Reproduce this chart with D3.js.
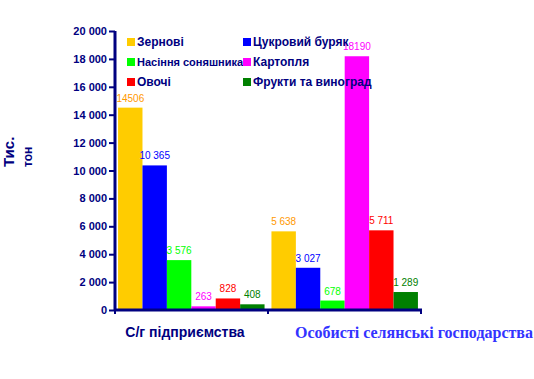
<!DOCTYPE html>
<html><head><meta charset="utf-8">
<script src="https://cdn.jsdelivr.net/npm/d3@7"></script>
<style>body{margin:0;background:#fff}svg{display:block}</style>
</head><body>
<script>
const categories = ["С/г підприємства", "Особисті селянські господарства"];
const seriesNames = ["Зернові", "Цукровий буряк", "Насіння соняшника", "Картопля", "Овочі", "Фрукти та виноград"];
const values = [
  [14506, 10365, 3576, 263, 828, 408],
  [5638, 3027, 678, 18190, 5711, 1289]
];
const valueLabels = [
  ["14506", "10 365", "3 576", "263", "828", "408"],
  ["5 638", "3 027", "678", "18190", "5 711", "1 289"]
];
const yTicks = [0, 2000, 4000, 6000, 8000, 10000, 12000, 14000, 16000, 18000, 20000];
const yTickLabels = ["0", "2 000", "4 000", "6 000", "8 000", "10 000", "12 000", "14 000", "16 000", "18 000", "20 000"];
const colors = ["#FFCC00", "#0000FF", "#00FF00", "#FF00FF", "#FF0000", "#008000"];
const labelColors = ["#FF9900", "#0000FF", "#00FF00", "#FF00FF", "#FF0000", "#008000"];

const W = 534, H = 379, navy = "#000080";
const svg = d3.select("body").append("svg").attr("width", W).attr("height", H);

const y = d3.scaleLinear().domain([0, 20000]).range([310, 31]);
const x0 = d3.scaleBand().domain(categories).range([115, 421]).paddingInner(0.045).paddingOuter(0.02);
const x1 = d3.scaleBand().domain(seriesNames).range([0, x0.bandwidth()]);

// bars
categories.forEach((c, ci) => {
  const g = svg.append("g").attr("transform", `translate(${x0(c)},0)`);
  g.selectAll("rect").data(values[ci]).join("rect")
    .attr("x", (d, i) => x1(seriesNames[i]))
    .attr("y", d => y(d))
    .attr("width", x1.bandwidth())
    .attr("height", d => y(0) - y(d))
    .attr("fill", (d, i) => colors[i]);
  g.selectAll("text").data(values[ci]).join("text")
    .attr("x", (d, i) => x1(seriesNames[i]) + x1.bandwidth() / 2)
    .attr("y", d => y(d) - 6)
    .attr("text-anchor", "middle")
    .attr("font-family", "Liberation Sans, Arial, sans-serif")
    .attr("font-size", 10)
    .attr("fill", (d, i) => labelColors[i])
    .text((d, i) => valueLabels[ci][i]);
});

// y axis
const yAxis = d3.axisLeft(y).tickValues(yTicks).tickFormat((d, i) => yTickLabels[i]).tickSize(6).tickPadding(2);
const ya = svg.append("g").attr("transform", "translate(115,0)").call(yAxis);
ya.select(".domain").attr("stroke", navy).attr("stroke-width", 3).attr("d", "M0,31V311");
ya.selectAll(".tick line").attr("stroke", navy).attr("stroke-width", 2);
ya.selectAll(".tick text").attr("fill", navy).attr("font-weight", "bold")
  .attr("font-family", "Liberation Sans, Arial, sans-serif").attr("font-size", 11);

// x axis
const xa = svg.append("g").attr("transform", "translate(0,310)");
xa.append("line").attr("x1", 114).attr("x2", 422).attr("y1", 0).attr("y2", 0).attr("stroke", navy).attr("stroke-width", 3);
const bounds = [115, x0(categories[1]) - x0.step() * x0.paddingInner() / 2, 421];
xa.selectAll("line.t").data(bounds).join("line").attr("class", "t")
  .attr("x1", d => d).attr("x2", d => d).attr("y1", 0).attr("y2", 4)
  .attr("stroke", navy).attr("stroke-width", 2);

// category labels
svg.append("text").attr("x", 185).attr("y", 337).attr("text-anchor", "middle")
  .attr("font-family", "Liberation Sans, Arial, sans-serif").attr("font-weight", "bold").attr("font-size", 14)
  .attr("fill", navy).text(categories[0]);
svg.append("text").attr("x", 414).attr("y", 338).attr("text-anchor", "middle")
  .attr("font-family", "Liberation Serif, Times New Roman, serif").attr("font-weight", "bold").attr("font-size", 16)
  .attr("fill", "#3333FF").text(categories[1]);

// y title
svg.append("text").attr("transform", "translate(14,167) rotate(-90)")
  .attr("font-family", "Liberation Sans, Arial, sans-serif").attr("font-weight", "bold").attr("font-size", 15)
  .attr("fill", navy).text("Тис.");
svg.append("text").attr("transform", "translate(32,167) rotate(-90)")
  .attr("font-family", "Liberation Sans, Arial, sans-serif").attr("font-weight", "bold").attr("font-size", 12)
  .attr("fill", navy).text("тон");

// legend
const lg = svg.append("g");
seriesNames.forEach((s, i) => {
  const col = i % 2, row = Math.floor(i / 2);
  const lx = col === 0 ? 127 : 243, ly = 38 + row * 20;
  lg.append("rect").attr("x", lx).attr("y", ly).attr("width", 8).attr("height", 8).attr("fill", colors[i]);
  lg.append("text").attr("x", lx + 10).attr("y", ly + 8)
    .attr("font-family", "Liberation Sans, Arial, sans-serif").attr("font-weight", "bold")
    .attr("font-size", i === 2 ? 11 : 12).attr("fill", navy).text(s);
});
</script>
</body></html>
